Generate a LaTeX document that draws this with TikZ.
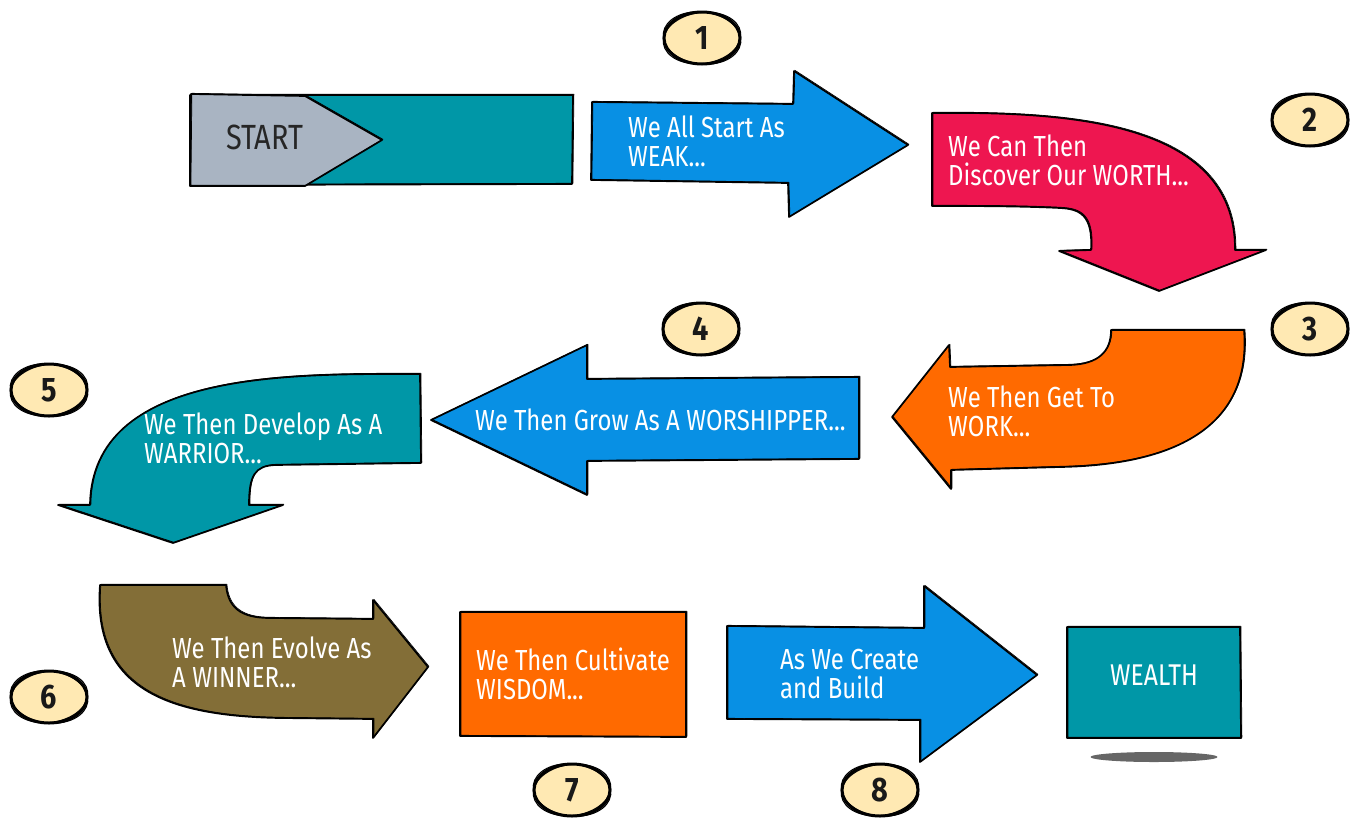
\documentclass[tikz,border=0pt]{standalone}
\usepackage{fontspec}
\setmainfont[FakeStretch=0.825]{Fira Sans}
\newfontfamily\numfont[FakeStretch=0.85]{Fira Sans Bold}
\usetikzlibrary{shapes.geometric}
\definecolor{teal}{HTML}{0097A7}
\definecolor{sky}{HTML}{0890E4}
\definecolor{rose}{HTML}{EE1650}
\definecolor{orng}{HTML}{FF6A00}
\definecolor{olive}{HTML}{836E37}
\definecolor{slategrey}{HTML}{A9B4C2}
\definecolor{cream}{HTML}{FFE9B3}
\tikzset{
  ink/.style={draw=black,line width=1.7pt,line join=round},
  sketch/.style={draw=black,line width=.7pt,line join=round,xshift=.9pt,yshift=.7pt},
  lab/.style={anchor=west,align=left,text=white,font=\fontsize{29}{29}\selectfont,inner sep=0pt},
  bubble/.style={ellipse,fill=cream,draw=black,line width=3pt,minimum width=76pt,minimum height=52pt,inner sep=0pt,font=\numfont\fontsize{34}{34}\selectfont,text=black!90},
  bubbleb/.style={ellipse,draw=black,line width=1.1pt,minimum width=78pt,minimum height=51pt,inner sep=0pt,rotate=8},
  bubblec/.style={ellipse,draw=black,line width=1.1pt,minimum width=78pt,minimum height=52pt,inner sep=0pt,rotate=-7},
}
\newcommand{\sketchshape}[2]{%
  \fill[#1] #2;
  \draw[ink] #2;
  \draw[sketch] #2;
}
\newcommand{\numbubble}[3]{%
  \node[bubble] (b#1) at (#2,#3) {#1};
  \node[bubbleb] (bb#1) at (#2,#3) {};
  \node[bubblec] (bc#1) at (#2,#3) {};
}
\begin{document}
\begin{tikzpicture}[x=1pt,y=-1pt]
\useasboundingbox (0,0) rectangle (1356,817);
% start bar
\sketchshape{teal}{(190,95) -- (573,95) -- (572,184) -- (190,185) -- cycle}
\sketchshape{slategrey}{(191,94) -- (305,96) -- (382,140) -- (305,186) -- (190,186) -- cycle}
\node[anchor=west,inner sep=0pt,text=black!85,font=\fontsize{35}{35}\selectfont] (start) at (226,137) {START};
% arrow 1
\sketchshape{sky}{(592,102) -- (793,104) -- (794,71) -- (908,145) -- (789,217) -- (788,183) -- (591,180) -- cycle}
\node[lab] (t1) at (628,141) {We All Start As\\WEAK...};
% arrow 2
\sketchshape{rose}{(932,113) .. controls (1060,112) and (1236,118) .. (1235,250) -- (1266,250) -- (1159,291) -- (1059,251) -- (1091,250) .. controls (1093,215) and (1080,209) .. (1060,208) .. controls (1020,206) and (970,206) .. (932,206) -- cycle}
\node[lab] (t2) at (948,160) {We Can Then\\Discover Our WORTH...};
% arrow 3
\sketchshape{orng}{(1244,330) -- (1111,330) .. controls (1111,352) and (1098,364) .. (1070,365) -- (950,367) -- (949,345) -- (892,417) -- (951,489) -- (951,470) -- (1060,467) .. controls (1170,465) and (1252,430) .. (1244,330) -- cycle}
\node[lab] (t3) at (948,411) {We Then Get To\\WORK...};
% arrow 4
\sketchshape{sky}{(859,377) -- (587,379) -- (587,345) -- (431,420) -- (587,495) -- (587,461) -- (859,459) -- cycle}
\node[lab] (t4) at (475,420) {We Then Grow As A WORSHIPPER...};
% arrow 5
\sketchshape{teal}{(420,374) .. controls (290,374) and (92,370) .. (90,505) -- (58,505) -- (173,543) -- (283,505) -- (249,505) .. controls (249,475) and (255,466) .. (275,465) -- (421,463) -- cycle}
\node[lab] (t5) at (144,438) {We Then Develop As A\\WARRIOR...};
% arrow 6
\sketchshape{olive}{(100,585) -- (226,585) .. controls (228,607) and (240,618) .. (270,618) -- (373,619) -- (373,600) -- (428,667) -- (373,738) -- (373,719) -- (280,718) .. controls (170,716) and (92,690) .. (100,585) -- cycle}
\node[lab] (t6) at (172,662) {We Then Evolve As\\A WINNER...};
% box 7
\sketchshape{orng}{(460,612) -- (686,612) -- (686,737) -- (460,736) -- cycle}
\node[lab] (t7) at (476,674) {We Then Cultivate\\WISDOM...};
% arrow 8
\sketchshape{sky}{(727,626) -- (924,628) -- (924,586) -- (1037,675) -- (920,762) -- (920,720) -- (727,719) -- cycle}
\node[lab] (t8) at (780,674) {As We Create\\and Build};
% wealth
\sketchshape{teal}{(1067,627) -- (1240,627) -- (1241,738) -- (1067,738) -- cycle}
\node[lab,anchor=center,font=\fontsize{30}{30}\selectfont] (t9) at (1154,675) {WEALTH};
\node[ellipse,fill=black!60,minimum width=127pt,minimum height=10pt,inner sep=0pt] (shadow) at (1154,757) {};
% bubbles
\numbubble{1}{702}{38}
\numbubble{2}{1310}{120}
\numbubble{3}{1310}{329}
\numbubble{4}{701}{329}
\numbubble{5}{49}{390}
\numbubble{6}{49}{697}
\numbubble{7}{572}{790}
\numbubble{8}{880}{790}
\end{tikzpicture}
\end{document}
